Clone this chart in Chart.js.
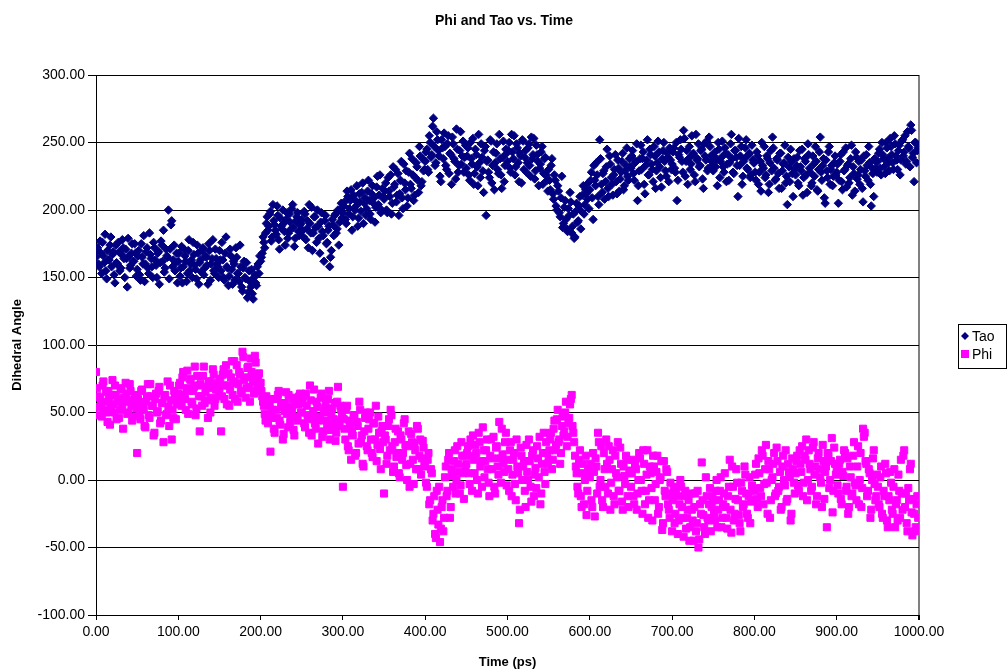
<!DOCTYPE html>
<html lang="en">
<head>
    <meta charset="UTF-8">
    <title>Phi and Tao vs. Time</title>
    <script src="https://cdn.jsdelivr.net/npm/chart.js@4.4.0/dist/chart.umd.min.js"></script>
    <style>
        html, body {
            margin: 0;
            padding: 0;
            background: #ffffff;
        }
        #wrap {
            width: 1008px;
            height: 672px;
        }
    </style>
</head>
<body>
    <div id="wrap">
        <canvas id="angleChart" width="1008" height="672"></canvas>
    </div>

    <script>
        // one sample per ps: "even" arrays hold 0,2,4.. ps, "odd" arrays hold 1,3,5.. ps
        const timeStep = 2;

        // Tao dihedral angle (degrees)
        const taoEven = [
            165,172,158,168,176,161,155,170,163,180,167,152,174,160,169,157,178,164,171,143,166,159,175,162,168,
            156,170,148,165,181,160,172,153,167,158,176,163,150,169,161,174,185,157,166,200,171,192,163,155,168,
            162,151,173,158,166,147,170,155,163,176,159,149,168,161,154,172,157,165,145,170,160,178,153,164,158,
            170,155,163,148,180,157,151,166,145,160,172,153,147,158,140,162,149,135,155,143,138,150,146,158,153,
            162,168,176,183,195,188,199,180,192,185,203,178,194,186,190,174,198,183,191,201,187,179,195,184,189,
            193,180,197,186,172,190,202,183,195,176,188,168,198,181,192,175,185,158,170,189,196,183,200,191,205,
            198,206,190,210,201,215,195,208,203,188,212,199,220,205,196,214,207,193,218,209,202,225,211,198,216,
            208,220,198,214,226,205,217,230,211,196,222,209,234,215,203,228,219,238,207,224,232,213,240,221,229,
            236,245,228,250,241,268,233,258,244,225,252,238,247,230,255,242,219,249,236,260,228,244,234,251,239,
            231,246,222,238,253,227,241,218,235,249,229,244,196,237,224,251,233,215,242,230,256,226,239,221,245,
            236,250,228,243,255,232,246,221,240,252,230,244,235,249,225,238,253,229,241,218,234,247,227,239,222,
            230,215,238,208,222,200,214,195,225,190,207,186,201,213,183,197,180,205,192,210,199,218,204,212,220,
            215,228,193,222,235,210,252,219,227,208,232,216,240,224,211,230,221,237,214,228,242,218,233,225,238,
            231,244,222,236,207,229,248,238,219,233,252,226,241,230,247,216,235,243,224,238,250,229,242,221,237,
            234,246,228,207,241,252,236,259,225,244,238,230,255,242,221,237,249,233,245,216,240,251,231,247,236,
            229,243,237,250,224,239,232,246,221,241,235,256,228,244,239,210,233,247,225,238,252,230,242,226,237,
            235,222,240,228,214,233,247,226,238,219,244,254,231,223,237,216,242,229,235,220,204,232,245,227,238,
            226,239,218,232,245,224,236,213,241,228,220,234,247,215,230,254,222,238,205,229,243,219,233,225,240,
            228,205,236,221,243,230,217,234,224,248,232,214,239,226,219,237,206,229,241,222,235,203,227,238,231,
            236,245,226,241,232,250,238,229,247,235,255,240,230,248,237,252,243,234,258,246,263,239,221,250,244
        ];
        const taoOdd = [
            170,160,177,153,166,182,149,163,174,158,169,146,161,176,155,167,172,150,164,179,157,168,162,175,151,
            166,152,175,160,147,169,157,183,164,150,172,159,168,145,177,162,154,171,165,149,189,158,174,161,146,
            168,157,146,171,162,153,178,160,150,167,156,174,145,163,170,152,166,159,175,148,164,155,171,160,150,
            163,176,150,168,158,144,171,156,162,148,165,153,174,143,157,150,161,139,147,156,134,152,144,160,166,
            165,180,172,190,185,197,177,204,189,182,196,171,188,200,184,193,179,197,186,204,173,192,198,181,190,
            185,199,178,192,204,183,170,195,187,200,179,191,184,162,196,176,188,165,193,181,197,186,174,200,194,
            203,193,214,197,207,185,211,200,218,194,206,213,190,209,201,222,197,212,205,191,217,204,226,200,210,
            214,200,224,210,197,232,219,206,227,212,236,201,220,229,209,242,216,226,211,235,222,247,218,238,230,
            243,230,255,239,262,247,235,252,240,221,246,257,233,249,227,241,254,238,223,245,233,258,240,228,248,
            240,226,250,234,219,245,232,256,224,239,213,247,236,228,252,220,243,235,249,227,238,216,251,233,242,
            244,231,256,238,226,249,235,242,220,251,239,228,246,233,254,241,223,248,236,231,243,219,238,226,214,
            222,233,212,226,203,218,198,209,187,202,193,184,196,206,188,179,199,191,203,186,211,197,215,208,201,
            222,209,233,218,226,204,238,213,229,221,245,210,234,219,226,241,212,231,223,236,215,229,246,222,232,
            240,227,235,249,218,238,230,243,212,237,226,245,234,221,240,229,251,232,217,244,236,225,239,246,230,
            243,231,250,222,239,245,228,253,236,219,247,234,241,226,256,238,232,244,223,249,237,229,254,240,233,
            240,232,218,245,236,251,228,242,234,222,249,238,227,244,233,253,240,219,236,246,231,241,224,248,235,
            228,243,219,236,250,231,224,240,213,235,229,246,222,238,227,242,216,234,248,225,239,221,236,210,230,
            233,220,244,229,211,238,226,249,231,218,240,225,236,214,243,228,233,209,237,224,247,230,218,235,226,
            234,222,241,215,229,246,233,220,238,211,227,243,223,236,230,216,240,225,233,247,219,231,210,236,228,
            242,231,250,238,227,246,235,253,241,230,249,237,244,226,251,240,255,236,247,232,259,242,250,235,246
        ];

        // Phi dihedral angle (degrees)
        const phiEven = [
            80,62,48,57,70,52,65,43,60,55,74,50,63,58,46,68,54,61,72,49,59,66,44,57,63,
            20,58,45,67,52,39,62,48,71,55,33,60,50,66,42,57,28,63,49,54,70,30,46,61,56,
            64,72,55,80,60,68,49,75,58,66,84,53,70,36,62,77,57,69,46,73,61,82,55,67,71,
            68,36,78,60,85,70,55,76,63,88,72,58,80,66,95,74,61,83,69,90,76,64,87,71,79,
            72,62,55,44,58,48,21,52,38,60,46,66,41,54,34,57,49,63,43,52,37,61,47,56,64,
            50,62,39,55,45,70,33,51,42,58,27,47,64,36,53,44,60,30,49,40,57,35,69,43,52,
            -5,38,52,25,44,15,33,48,20,40,58,28,12,36,50,22,45,30,17,42,55,26,35,8,40,
            -10,30,18,45,52,25,10,38,20,5,33,15,42,26,0,36,12,28,-3,22,40,8,30,16,24,
            10,-5,20,-15,5,-25,-40,-8,-33,-46,-20,-38,2,-12,15,-28,8,-5,22,0,12,-10,28,5,18,
            12,25,-3,18,33,5,20,-10,28,14,39,2,22,8,-12,30,16,-5,24,10,43,-2,19,6,35,
            15,-8,28,4,20,-15,10,-32,24,0,14,-20,6,30,-5,18,-12,9,25,2,-18,12,35,-3,20,
            15,30,8,38,22,45,28,12,40,33,50,25,42,56,63,35,18,5,-10,22,-20,12,0,-26,8,
            2,-15,20,-27,10,35,-5,25,-20,8,30,-10,15,-2,22,-18,5,28,-8,12,-22,3,18,-12,7,
            -5,15,-18,8,-10,20,0,-25,12,-8,22,-15,5,-30,10,-3,18,-20,2,-37,14,-12,6,-22,-2,
            -38,-5,-25,-12,-30,0,-20,-42,-8,-28,-15,-35,-22,-45,-10,-32,-50,-18,13,-26,-40,-12,-30,-6,-20,
            -15,-30,0,-22,-8,-35,-18,5,-28,-12,15,-39,-5,-25,8,-15,-32,-2,-20,10,-10,-28,2,-16,-6,
            -8,12,-20,5,-12,18,-3,26,-25,8,-15,2,20,-10,14,-5,-22,10,0,22,-14,6,-30,16,-2,
            5,18,-8,12,25,-2,15,-15,22,8,-5,28,10,-12,20,2,-20,14,6,-35,18,0,31,-8,12,
            8,-10,15,-18,3,20,-5,-25,10,-12,18,-2,-15,25,0,-20,38,35,12,-8,5,-22,16,-3,-12,
            -5,-20,10,-28,-12,5,-35,-15,-2,-25,8,-18,-30,-8,15,-22,22,-10,-38,-15,12,-41,-25,-35,-12
        ];
        const phiOdd = [
            68,54,61,47,73,58,50,66,41,63,56,70,45,60,52,67,38,58,64,50,71,55,47,62,53,
            60,48,66,53,40,58,71,46,62,55,35,64,51,69,44,57,62,48,73,40,59,52,66,45,61,
            70,58,76,63,52,81,66,74,56,69,48,77,62,71,55,84,65,59,73,50,68,78,60,72,64,
            75,62,82,70,56,79,67,88,73,60,85,71,78,64,91,76,68,84,58,80,73,92,66,77,70,
            66,58,49,62,42,55,46,60,35,52,63,44,57,30,51,65,39,54,47,60,33,56,44,62,50,
            57,42,64,48,35,59,46,67,38,54,44,61,32,50,56,41,66,37,53,45,29,58,40,55,47,
            45,30,55,22,40,35,48,18,43,27,52,33,10,46,25,38,50,20,42,30,14,47,23,36,28,
            33,12,40,22,48,6,28,17,36,2,30,20,45,11,25,-5,34,15,27,8,38,18,4,29,13,
            -2,15,-18,8,-30,-12,-43,-22,-5,-36,-15,-28,10,-8,20,-20,3,14,-10,25,6,-4,18,-14,10,
            20,5,30,-8,15,26,0,35,10,-5,22,14,30,-2,18,8,32,-10,25,4,16,38,12,28,-4,
            8,22,-12,15,-3,30,5,-22,18,10,-8,26,0,14,-16,22,4,-6,16,32,-10,20,6,28,12,
            22,35,15,44,26,52,30,20,47,36,58,32,46,60,40,28,10,-5,15,-12,5,-18,18,-8,3,
            12,-20,6,16,-10,28,0,-15,20,-5,12,25,-22,8,-12,18,2,-8,24,-16,10,-3,15,-20,5,
            5,-12,12,-22,0,16,-8,22,-18,4,-28,10,-6,18,-15,6,-25,0,14,-32,-8,8,-18,-28,-10,
            -15,-32,-8,-40,-18,-5,-28,-12,-36,-22,-45,-10,-30,-20,-38,-8,-44,-25,-15,-35,2,-28,-18,-38,-12,
            -25,-8,-35,-15,2,-28,-10,-20,-36,-5,-22,10,-30,-14,-2,-26,-38,-8,-18,4,-25,-12,-32,-4,-15,
            4,-14,16,-6,22,-18,8,-2,14,-28,0,12,-12,24,-8,6,-20,18,-4,-16,12,2,-25,8,-10,
            14,-4,22,6,-12,18,30,0,12,-8,24,4,-18,16,8,-2,26,-14,10,20,-6,14,-24,24,4,
            -4,12,-14,6,22,-8,16,-20,2,-10,28,-4,10,-18,20,-6,32,14,-12,8,-28,0,22,-15,4,
            -18,2,-25,-8,12,-30,-12,6,-22,-5,-35,-15,4,-28,-10,18,-20,-32,-6,8,-24,-14,-38,-18,-28
        ];

        const xMin = 0, xMax = 1000, xStep = 100;
        const yMin = -100, yMax = 300, yStep = 50;

        const fontFamily = '"Liberation Sans", Arial, sans-serif';
        const taoColor = '#000080';
        const phiColor = '#FF00FF';

        // merge even/odd samples into {x, y} points in time order
        function toPoints(even, odd) {
            const pts = [];
            even.forEach((v, i) => {
                pts.push({ x: i * timeStep, y: v });
                if (i < odd.length) pts.push({ x: i * timeStep + 1, y: odd[i] });
            });
            return pts;
        }

        // chart title + legend box, drawn like the spreadsheet original
        const decorations = {
            id: 'decorations',
            afterDraw(chart) {
                const ctx = chart.ctx;
                ctx.save();
                ctx.fillStyle = '#000';
                ctx.font = 'bold 14px ' + fontFamily;
                ctx.textAlign = 'center';
                ctx.textBaseline = 'middle';
                ctx.fillText('Phi and Tao vs. Time', 504, 21);

                // legend
                ctx.strokeStyle = '#000';
                ctx.lineWidth = 1;
                ctx.strokeRect(958.5, 324.5, 48, 44);
                ctx.font = '14px ' + fontFamily;
                ctx.textAlign = 'left';
                chart.data.datasets.forEach((ds, i) => {
                    const y = 336 + i * 18;
                    ctx.fillStyle = ds.backgroundColor;
                    if (ds.pointStyle === 'rectRot') {
                        ctx.beginPath();
                        ctx.moveTo(965, y - 4);
                        ctx.lineTo(969, y);
                        ctx.lineTo(965, y + 4);
                        ctx.lineTo(961, y);
                        ctx.closePath();
                        ctx.fill();
                    } else {
                        ctx.fillRect(961, y - 4, 8, 8);
                    }
                    ctx.fillStyle = '#000';
                    ctx.fillText(ds.label, 972, y + 1);
                });
                ctx.restore();
            }
        };

        new Chart(document.getElementById('angleChart'), {
            type: 'scatter',
            data: {
                datasets: [
                    {
                        label: 'Tao',
                        data: toPoints(taoEven, taoOdd),
                        pointStyle: 'rectRot',
                        pointRadius: 4.2,
                        borderWidth: 1,
                        backgroundColor: taoColor,
                        borderColor: taoColor
                    },
                    {
                        label: 'Phi',
                        data: toPoints(phiEven, phiOdd),
                        pointStyle: 'rect',
                        pointRadius: 5,
                        borderWidth: 1,
                        backgroundColor: phiColor,
                        borderColor: phiColor
                    }
                ]
            },
            options: {
                responsive: false,
                animation: false,
                layout: {
                    padding: { top: 75, right: 89, left: 0, bottom: 0 }
                },
                plugins: {
                    legend: { display: false },
                    title: { display: false },
                    tooltip: { enabled: false }
                },
                scales: {
                    x: {
                        type: 'linear',
                        min: xMin,
                        max: xMax,
                        afterFit(scale) { scale.height = 57; },
                        ticks: {
                            stepSize: xStep,
                            color: '#000',
                            padding: 4,
                            maxRotation: 0,
                            font: { family: fontFamily, size: 14 },
                            callback: v => v.toFixed(2)
                        },
                        grid: {
                            color: ctx => (ctx.tick && ctx.tick.value === xMax) ? '#808080' : 'rgba(0,0,0,0)',
                            lineWidth: ctx => (ctx.tick && ctx.tick.value === xMax) ? 2 : 1,
                            tickColor: '#000',
                            tickLength: 5
                        },
                        border: { display: true, color: '#000', width: 1 },
                        title: {
                            display: true,
                            text: 'Time (ps)',
                            color: '#000',
                            padding: { top: 0, bottom: 2 },
                            font: { family: fontFamily, size: 13, weight: 'bold' }
                        }
                    },
                    y: {
                        min: yMin,
                        max: yMax,
                        afterFit(scale) { scale.width = 96; },
                        ticks: {
                            stepSize: yStep,
                            color: '#000',
                            padding: 3,
                            font: { family: fontFamily, size: 14 },
                            callback: v => v.toFixed(2)
                        },
                        grid: {
                            color: '#000',
                            tickColor: '#000',
                            tickLength: 8
                        },
                        border: { display: true, color: '#000', width: 1 },
                        title: {
                            display: true,
                            text: 'Dihedral Angle',
                            color: '#000',
                            padding: { top: 10, bottom: 0 },
                            font: { family: fontFamily, size: 13, weight: 'bold' }
                        }
                    }
                }
            },
            plugins: [decorations]
        });
    </script>
</body>
</html>
